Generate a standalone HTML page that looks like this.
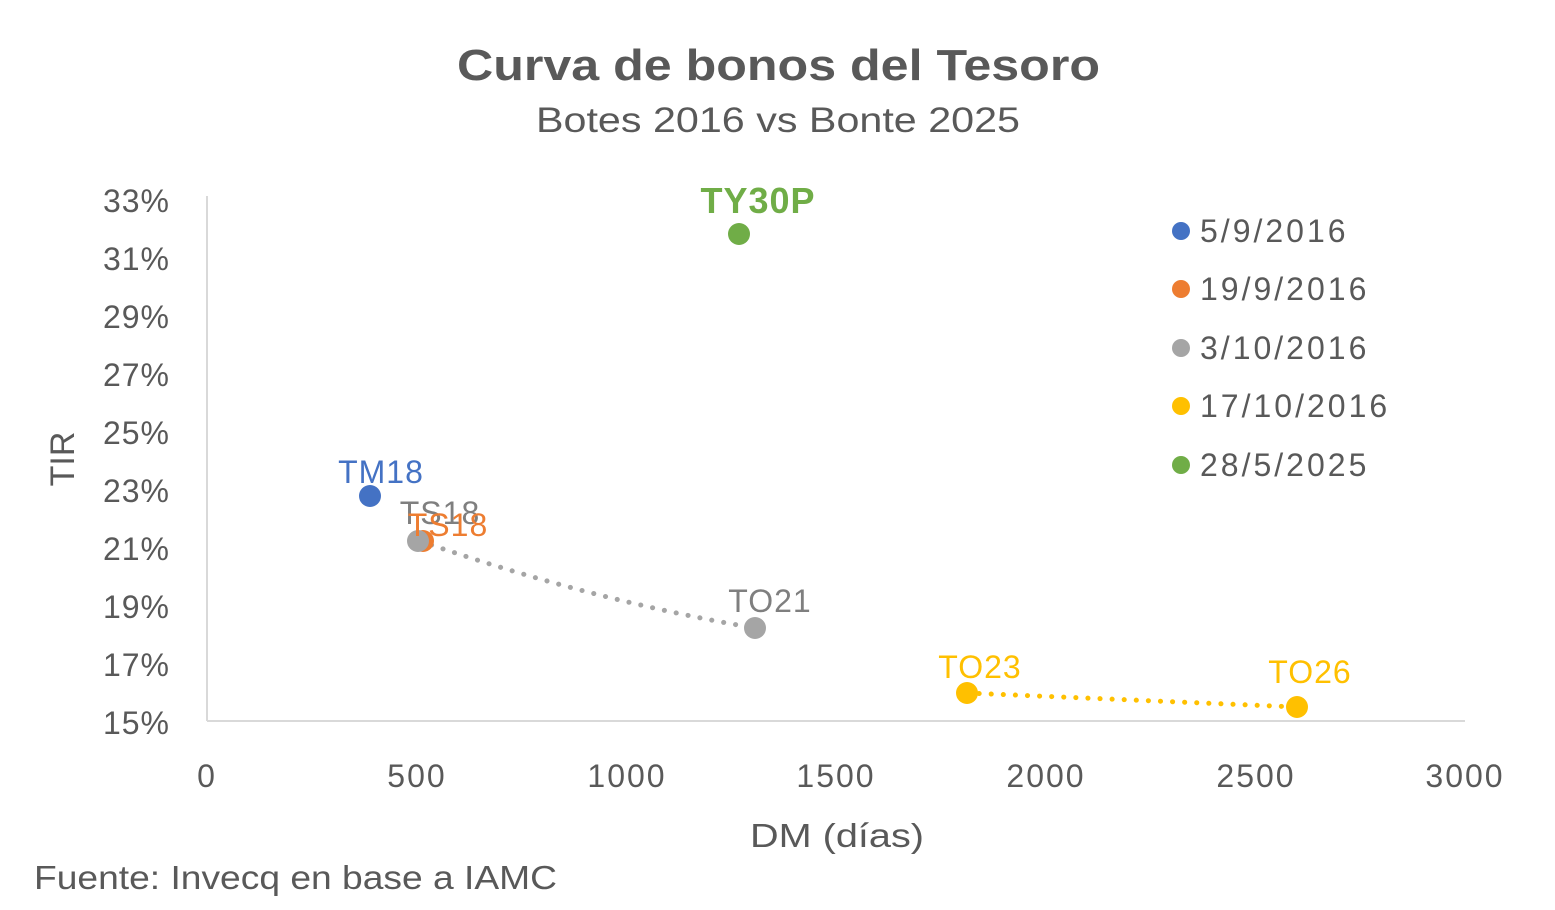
<!DOCTYPE html>
<html><head><meta charset="utf-8"><style>
body{margin:0;background:#fff}
svg text{font-family:"Liberation Sans",sans-serif}
</style></head><body>
<svg width="1555" height="905" xmlns="http://www.w3.org/2000/svg">
<rect width="1555" height="905" fill="#fff"/>
<text x="457" y="80" font-size="44" font-weight="bold" fill="#595959" textLength="643" lengthAdjust="spacingAndGlyphs">Curva de bonos del Tesoro</text>
<text x="536" y="132" font-size="35" fill="#595959" textLength="484" lengthAdjust="spacingAndGlyphs">Botes 2016 vs Bonte 2025</text>
<line x1="207" y1="196" x2="207" y2="721" stroke="#d9d9d9" stroke-width="2"/>
<line x1="207" y1="721" x2="1465" y2="721" stroke="#d9d9d9" stroke-width="2"/>
<g font-size="32" fill="#595959" text-anchor="end" letter-spacing="1">
<text x="170" y="212">33%</text><text x="170" y="270">31%</text><text x="170" y="328">29%</text>
<text x="170" y="386">27%</text><text x="170" y="444">25%</text><text x="170" y="502">23%</text>
<text x="170" y="560">21%</text><text x="170" y="618">19%</text><text x="170" y="676">17%</text>
<text x="170" y="734">15%</text>
</g>
<g font-size="32" fill="#595959" text-anchor="middle" letter-spacing="2">
<text x="207" y="787">0</text><text x="417" y="787">500</text><text x="627" y="787">1000</text>
<text x="836" y="787">1500</text><text x="1046" y="787">2000</text><text x="1256" y="787">2500</text>
<text x="1465" y="787">3000</text>
</g>
<text x="750" y="847" font-size="33" fill="#595959" textLength="174" lengthAdjust="spacingAndGlyphs">DM (días)</text>
<text transform="translate(74,459) rotate(-90)" font-size="34" fill="#595959" text-anchor="middle">TIR</text>
<text x="34" y="889" font-size="33" fill="#595959" textLength="523" lengthAdjust="spacingAndGlyphs">Fuente: Invecq en base a IAMC</text>
<path d="M420,541 Q590,600 755,628" fill="none" stroke="#a5a5a5" stroke-width="5" stroke-dasharray="0.1 12" stroke-linecap="round"/>
<path d="M967,693 L1297,707" fill="none" stroke="#ffc000" stroke-width="5" stroke-dasharray="0.1 12" stroke-linecap="round"/>
<circle cx="370" cy="496" r="11" fill="#4472c4"/>
<circle cx="423" cy="541" r="11" fill="#ed7d31"/>
<circle cx="418" cy="541" r="11" fill="#a5a5a5"/>
<circle cx="755" cy="628" r="11" fill="#a5a5a5"/>
<circle cx="739" cy="234" r="11" fill="#70ad47"/>
<circle cx="967" cy="693" r="11" fill="#ffc000"/>
<circle cx="1297" cy="707" r="11" fill="#ffc000"/>
<g font-size="32">
<text x="381" y="483" fill="#4472c4" text-anchor="middle" letter-spacing="1">TM18</text>
<text x="440" y="524" fill="#7f7f7f" text-anchor="middle" letter-spacing="1">TS18</text>
<text x="448" y="536" fill="#ed7d31" text-anchor="middle" letter-spacing="1">TS18</text>
<text x="770" y="612" fill="#7f7f7f" text-anchor="middle" letter-spacing="1">TO21</text>
<text x="758" y="213" fill="#70ad47" font-weight="bold" font-size="36" text-anchor="middle" letter-spacing="1">TY30P</text>
<text x="980" y="678" fill="#ffc000" text-anchor="middle" letter-spacing="1">TO23</text>
<text x="1310" y="683" fill="#ffc000" text-anchor="middle" letter-spacing="1">TO26</text>
</g>
<g font-size="32" fill="#595959" letter-spacing="3">
<circle cx="1181" cy="231" r="9" fill="#4472c4"/><text x="1200" y="242">5/9/2016</text>
<circle cx="1181" cy="289" r="9" fill="#ed7d31"/><text x="1200" y="300">19/9/2016</text>
<circle cx="1181" cy="348" r="9" fill="#a5a5a5"/><text x="1200" y="359">3/10/2016</text>
<circle cx="1181" cy="406" r="9" fill="#ffc000"/><text x="1200" y="417">17/10/2016</text>
<circle cx="1181" cy="465" r="9" fill="#70ad47"/><text x="1200" y="476">28/5/2025</text>
</g>
</svg>
</body></html>
